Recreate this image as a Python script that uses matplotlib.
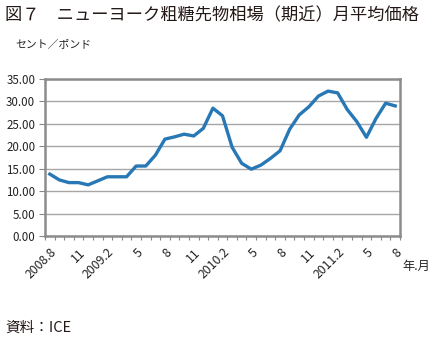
import matplotlib
matplotlib.use("Agg")
import matplotlib.pyplot as plt
import numpy as np

plt.rcParams['font.family'] = ['Noto Sans CJK JP', 'DejaVu Sans']

# ========================================================================
# monthly average, cents per pound, 2008.8 - 2011.8
price = [13.8, 12.5, 11.9, 11.9, 11.4, 12.3, 13.2, 13.2, 13.2, 15.6,
         15.6, 18.0, 21.6, 22.1, 22.7, 22.3, 24.0, 28.5, 26.8, 19.8,
         16.2, 14.9, 15.8, 17.3, 19.0, 23.8, 27.0, 28.8, 31.2, 32.3,
         31.9, 28.2, 25.5, 22.0, 26.2, 29.6, 29.0]
tick_labels = ["2008.8", "11", "2009.2", "5", "8", "11", "2010.2",
               "5", "8", "11", "2011.2", "5", "8"]
yticks = [0, 5, 10, 15, 20, 25, 30, 35]

# ========================================================================
fig = plt.figure(figsize=(4.46, 3.42), dpi=100)
ax = fig.add_axes([45/446, 1-236/342, 355/446, 157/342])

x = np.arange(len(price))
ax.plot(x, price, color="#2878b5", lw=2.4, solid_joinstyle="round")

ax.set_xlim(-0.5, len(price) - 0.5)
ax.set_ylim(0, 35)
ax.set_yticks(yticks)
ax.set_yticklabels(["%.2f" % v for v in yticks], fontsize=8.3, color="#222222")
ax.yaxis.grid(True, color="#a6a6a6", lw=1.0)
ax.set_axisbelow(True)

ax.set_xticks(np.arange(0, len(price), 3))
ax.set_xticklabels(tick_labels, rotation=45, ha="right", va="top",
                   rotation_mode="anchor", fontsize=8.8, color="#222222")
ax.set_xticks(np.arange(-0.5, len(price), 1), minor=True)
ax.tick_params(axis="x", which="major", length=0, pad=7)
ax.tick_params(axis="x", which="minor", length=3, color="#888888", width=0.8)
ax.tick_params(axis="y", length=4, color="#888888", width=0.8, pad=3)

for s in ax.spines.values():
    s.set_color("#8c8c8c")
    s.set_linewidth(1.8)

fig.text(0.012, 0.955, "図７　ニューヨーク粗糖先物相場（期近）月平均価格",
         fontsize=12.4, va="center", ha="left", color="#231815")
fig.text(0.034, 0.868, "セント／ポンド", fontsize=7.8, va="center", ha="left",
         color="#222222")
fig.text(0.903, 0.222, "年.月", fontsize=8.8, va="center", ha="left",
         color="#222222")
fig.text(0.012, 0.042, "資料：ICE", fontsize=10.5, va="center", ha="left",
         color="#231815")

fig.savefig("out.png", dpi=100)
